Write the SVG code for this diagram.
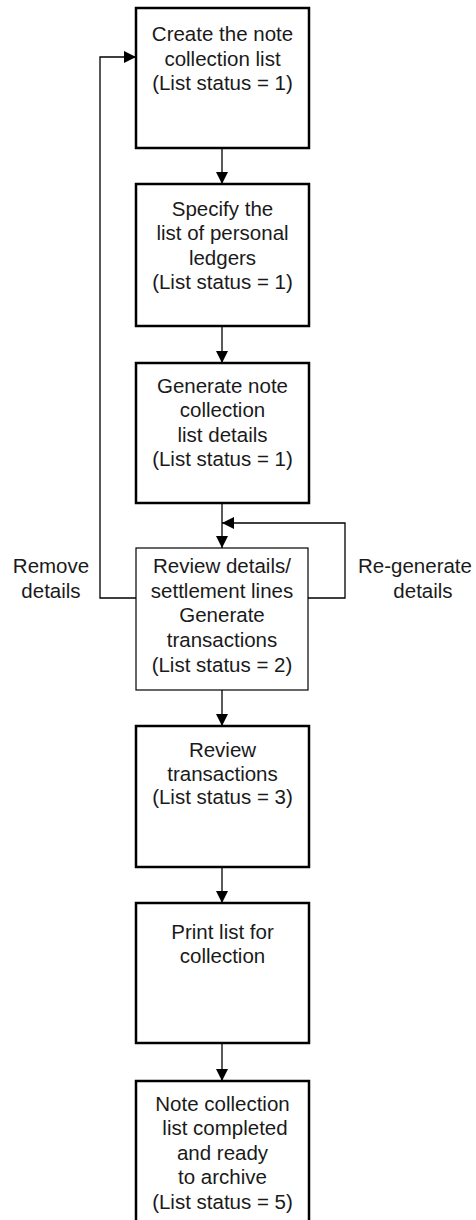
<svg xmlns="http://www.w3.org/2000/svg" width="476" height="1220" viewBox="0 0 476 1220">
  <defs>
    <marker id="arrow" viewBox="0 0 12 12" refX="12" refY="6" markerWidth="12" markerHeight="13" markerUnits="userSpaceOnUse" orient="auto">
      <path d="M0,0 L12,6 L0,12 Z" fill="#000"/>
    </marker>
  </defs>
  <style>
    .box { fill: #fff; stroke: #000; stroke-width: 2.5; }
    .box-thin { fill: #fff; stroke: #000; stroke-width: 1.2; }
    .lbl { font-family: "Liberation Sans", Arial, sans-serif; font-size: 20.5px; fill: #1a1a1a; text-anchor: middle; }
    .side { font-family: "Liberation Sans", Arial, sans-serif; font-size: 20.5px; fill: #1a1a1a; }
    .conn { fill: none; stroke: #000; stroke-width: 1.3; }
  </style>

  <g id="connectors">
    <line class="conn" x1="222" y1="148" x2="222" y2="184" marker-end="url(#arrow)"/>
    <line class="conn" x1="222" y1="326" x2="222" y2="363" marker-end="url(#arrow)"/>
    <line class="conn" x1="222" y1="503" x2="222" y2="548" marker-end="url(#arrow)"/>
    <line class="conn" x1="222" y1="690" x2="222" y2="726" marker-end="url(#arrow)"/>
    <line class="conn" x1="222" y1="867" x2="222" y2="903" marker-end="url(#arrow)"/>
    <line class="conn" x1="222" y1="1043" x2="222" y2="1081" marker-end="url(#arrow)"/>
    <!-- remove details: back to the first step -->
    <polyline class="conn" points="136,598 100,598 100,57 136,57" marker-end="url(#arrow)"/>
    <!-- re-generate details: back into the generate step output -->
    <polyline class="conn" points="308,598 345,598 345,523 222,523" marker-end="url(#arrow)"/>
  </g>

  <g id="create-list">
    <rect class="box" x="136" y="8" width="173" height="140"/>
    <text class="lbl" x="222.5" y="41"><tspan x="222.5">Create the note</tspan><tspan x="222.5" dy="24.5">collection list</tspan><tspan x="222.5" dy="24.5">(List status = 1)</tspan></text>
  </g>

  <g id="specify-ledgers">
    <rect class="box" x="136" y="184" width="173" height="142"/>
    <text class="lbl" x="222.5" y="216"><tspan x="222.5">Specify the</tspan><tspan x="222.5" dy="24.3">list of personal</tspan><tspan x="222.5" dy="24.3">ledgers</tspan><tspan x="222.5" dy="24.3">(List status = 1)</tspan></text>
  </g>

  <g id="generate-details">
    <rect class="box" x="136" y="363" width="173" height="140"/>
    <text class="lbl" x="222.5" y="393"><tspan x="222.5">Generate note</tspan><tspan x="222.5" dy="24.3">collection</tspan><tspan x="222.5" dy="24.3">list details</tspan><tspan x="222.5" dy="24.3">(List status = 1)</tspan></text>
  </g>

  <g id="review-details">
    <rect class="box-thin" x="136" y="548" width="172" height="142"/>
    <text class="lbl" x="222" y="573"><tspan x="222">Review details/</tspan><tspan x="222" dy="24.7">settlement lines</tspan><tspan x="222" dy="24.7">Generate</tspan><tspan x="222" dy="24.7">transactions</tspan><tspan x="222" dy="24.7">(List status = 2)</tspan></text>
  </g>

  <g id="remove-label">
    <text class="side" x="51" y="573" text-anchor="middle"><tspan x="51">Remove</tspan><tspan x="51" dy="25">details</tspan></text>
  </g>

  <g id="regenerate-label">
    <text class="side" x="358" y="573">Re-generate</text>
    <text class="side" x="423" y="598" text-anchor="middle">details</text>
  </g>

  <g id="review-transactions">
    <rect class="box" x="136" y="726" width="173" height="141"/>
    <text class="lbl" x="222.5" y="757"><tspan x="222.5">Review</tspan><tspan x="222.5" dy="23.5">transactions</tspan><tspan x="222.5" dy="23.5">(List status = 3)</tspan></text>
  </g>

  <g id="print-list">
    <rect class="box" x="136" y="903" width="173" height="140"/>
    <text class="lbl" x="222.5" y="939"><tspan x="222.5">Print list for</tspan><tspan x="222.5" dy="24">collection</tspan></text>
  </g>

  <g id="list-completed">
    <rect class="box" x="136" y="1081" width="173" height="160"/>
    <text class="lbl" x="222.5" y="1111"><tspan x="222.5">Note collection</tspan><tspan x="225" dy="24.4">list completed</tspan><tspan x="222.5" dy="24.4">and ready</tspan><tspan x="222.5" dy="24.4">to archive</tspan><tspan x="222.5" dy="24.4">(List status = 5)</tspan></text>
  </g>
</svg>
